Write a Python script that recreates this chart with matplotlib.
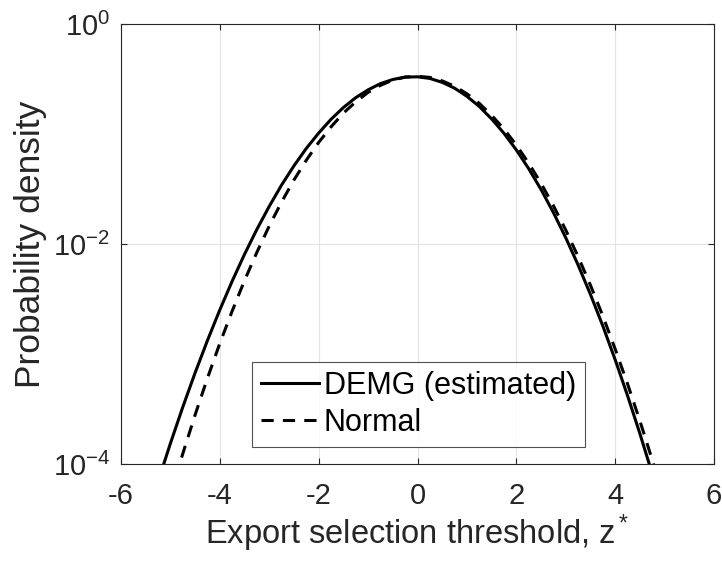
import numpy as np
from matplotlib import pyplot as plt

plt.rcParams.update({'font.family': 'Liberation Sans',
                     'font.size': 15,
                     'mathtext.fontset': 'custom',
                     'mathtext.rm': 'Liberation Sans',
                     'mathtext.it': 'Liberation Sans:italic'})

#---- Data (x = threshold z*, y = density)

demg_x = [-5.25, -5.0, -4.75, -4.5, -4.25, -4.0, -3.75, -3.5, -3.25, -3.0,
          -2.75, -2.5, -2.25, -2.0, -1.75, -1.5, -1.25, -1.0, -0.75, -0.5,
          -0.25, 0.0, 0.25, 0.5, 0.75, 1.0, 1.25, 1.5, 1.75, 2.0, 2.25, 2.5,
          2.75, 3.0, 3.25, 3.5, 3.75, 4.0, 4.25, 4.5, 4.75, 4.85]
demg_y = [6.92e-5, 1.54e-4, 3.29e-4, 6.75e-4, 1.33e-3, 2.52e-3, 4.60e-3,
          8.07e-3, 1.36e-2, 2.20e-2, 3.44e-2, 5.14e-2, 7.40e-2, 0.102, 0.136,
          0.174, 0.214, 0.252, 0.287, 0.313, 0.329, 0.331, 0.320, 0.295, 0.261,
          0.220, 0.178, 0.137, 0.1015, 7.16e-2, 4.84e-2, 3.13e-2, 1.93e-2,
          1.14e-2, 6.44e-3, 3.48e-3, 1.80e-3, 8.87e-4, 4.19e-4, 1.89e-4,
          8.17e-5, 5.77e-5]

norm_x = [-4.9, -4.75, -4.5, -4.25, -4.0, -3.75, -3.5, -3.25, -3.0, -2.75,
          -2.5, -2.25, -2.0, -1.75, -1.5, -1.25, -1.0, -0.75, -0.5, -0.25,
          0.0, 0.25, 0.5, 0.75, 1.0, 1.25, 1.5, 1.75, 2.0, 2.25, 2.5, 2.75,
          3.0, 3.25, 3.5, 3.75, 4.0, 4.25, 4.5, 4.75, 4.9]
norm_y = [7.46e-5, 1.24e-4, 2.80e-4, 6.04e-4, 1.25e-3, 2.46e-3, 4.66e-3,
          8.41e-3, 1.46e-2, 2.41e-2, 3.82e-2, 5.78e-2, 8.39e-2, 0.116, 0.155,
          0.196, 0.239, 0.277, 0.309, 0.329, 0.335, 0.327, 0.304, 0.272, 0.232,
          0.190, 0.148, 0.111, 7.93e-2, 5.43e-2, 3.56e-2, 2.23e-2, 1.34e-2,
          7.67e-3, 4.22e-3, 2.22e-3, 1.11e-3, 5.36e-4, 2.47e-4, 1.09e-4, 6.5e-5]

x_ticks = [-6, -4, -2, 0, 2, 4, 6]
y_ticks = [1e-4, 1e-2, 1e0]

#---- Figure

fig = plt.figure(figsize=(7.22, 5.69), dpi=100)
ax = fig.add_axes([121/722, 1 - 464/569, (714-121)/722, (464-24)/569])

ax.plot(demg_x, demg_y, color='k', lw=2.2, solid_joinstyle='round',
        label='DEMG (estimated)')
ax.plot(norm_x, norm_y, color='k', lw=2.2, ls=(0, (4.0, 3.0)),
        dash_joinstyle='round', label='Normal')

ax.set_yscale('log')
ax.set_xlim(-6, 6)
ax.set_ylim(1e-4, 1e0)
ax.set_xticks(x_ticks)
ax.set_yticks(y_ticks)
ax.minorticks_off()
ax.set_xticklabels([str(t) for t in x_ticks])

ax.grid(True, color='#e3e3e3', lw=0.8)
ax.set_axisbelow(True)
for s in ax.spines.values():
    s.set_color('#262626')
    s.set_linewidth(0.8)
ax.tick_params(which='both', direction='in', top=True, right=True,
               length=4, width=0.8, color='#262626', labelsize=21,
               labelcolor='#262626')
ax.tick_params(axis='x', pad=13)
ax.tick_params(axis='y', pad=8)

ax.set_xlabel('Export selection threshold, z$^*$', fontsize=23.5, color='#262626',
              labelpad=2)
ax.set_ylabel('Probability density', fontsize=25.5, color='#262626', labelpad=4)

leg = ax.legend(loc='lower left', bbox_to_anchor=((251.7-121)/593, (464-447)/440),
                fontsize=22, frameon=True, fancybox=False, handlelength=1.9,
                handletextpad=0.15, borderpad=0.3, labelspacing=0.22,
                borderaxespad=0)
leg.get_frame().set_edgecolor('#262626')
leg.get_frame().set_linewidth(0.8)

fig.savefig('out.png', dpi=100)
